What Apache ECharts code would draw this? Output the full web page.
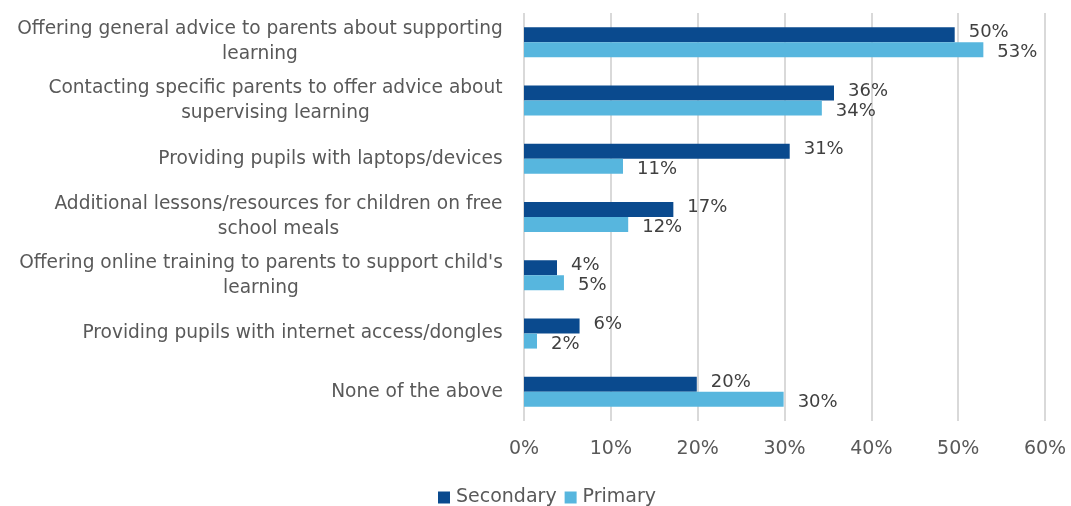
<!DOCTYPE html>
<html>
<head>
<meta charset="utf-8">
<script src="https://cdn.jsdelivr.net/npm/echarts@6/dist/echarts.min.js"></script>
<style>html,body{margin:0;padding:0;background:#fff}#c{width:1071px;height:506px}</style>
</head>
<body>
<div id="c"></div>
<script>
const categories = [
  "Offering general advice to parents about supporting\nlearning",
  "Contacting specific parents to offer advice about\nsupervising learning",
  "Providing pupils with laptops/devices",
  "Additional lessons/resources for children on free\nschool meals",
  "Offering online training to parents to support child's\nlearning",
  "Providing pupils with internet access/dongles",
  "None of the above"
];
const secondary = [49.6, 35.7, 30.6, 17.2, 3.8, 6.4, 19.9];
const primary = [52.9, 34.3, 11.4, 12.0, 4.6, 1.5, 29.9];
const xTicks = [0, 10, 20, 30, 40, 50, 60];

const FONT = '"DejaVu Sans", sans-serif';
const LABEL_SIZE = 18.6;
const cv = document.createElement('canvas').getContext('2d');
cv.font = LABEL_SIZE + 'px ' + FONT;
const rich = {};
categories.forEach((c, i) => {
  const w = Math.max(...c.split('\n').map(l => cv.measureText(l).width));
  rich['c' + i] = { width: Math.ceil(w), align: 'center', fontSize: LABEL_SIZE, fontFamily: FONT, color: '#595959', lineHeight: 25 };
});

const chart = echarts.init(document.getElementById('c'), null, { renderer: 'canvas' });
chart.setOption({
  animation: false,
  grid: { left: 524, right: 26, top: 13, bottom: 85, containLabel: false },
  legend: {
    top: 483, left: 433,
    itemWidth: 12, itemHeight: 12, itemGap: 8,
    icon: 'rect',
    textStyle: { fontSize: 19, fontFamily: FONT, color: '#595959', padding: [0, 0, 0, 1] },
    data: ['Secondary', 'Primary']
  },
  xAxis: {
    type: 'value', min: xTicks[0], max: xTicks[xTicks.length - 1], interval: 10,
    axisLine: { show: false }, axisTick: { show: false },
    splitLine: { lineStyle: { color: '#d9d9d9', width: 2 } },
    axisLabel: { formatter: '{value}%', fontSize: 19, fontFamily: FONT, color: '#595959', margin: 19 }
  },
  yAxis: {
    type: 'category', data: categories, inverse: true,
    axisLine: { show: false }, axisTick: { show: false },
    axisLabel: {
      margin: 21,
      formatter: (v) => {
        const i = categories.indexOf(v);
        return v.split('\n').map(l => '{c' + i + '|' + l + '}').join('\n');
      },
      rich: rich
    }
  },
  series: [
    {
      name: 'Secondary', type: 'bar', data: secondary, barWidth: 15, barGap: '0%',
      itemStyle: { color: '#0A4A8E' },
      label: { show: true, position: 'right', distance: 14, formatter: p => Math.round(p.value) + '%', fontSize: 18, fontFamily: FONT, color: '#404040', offset: [0, -2] }
    },
    {
      name: 'Primary', type: 'bar', data: primary, barWidth: 15,
      itemStyle: { color: '#57B6DE' },
      label: { show: true, position: 'right', distance: 14, formatter: p => Math.round(p.value) + '%', fontSize: 18, fontFamily: FONT, color: '#404040', offset: [0, 3] }
    }
  ]
});
</script>
</body>
</html>
